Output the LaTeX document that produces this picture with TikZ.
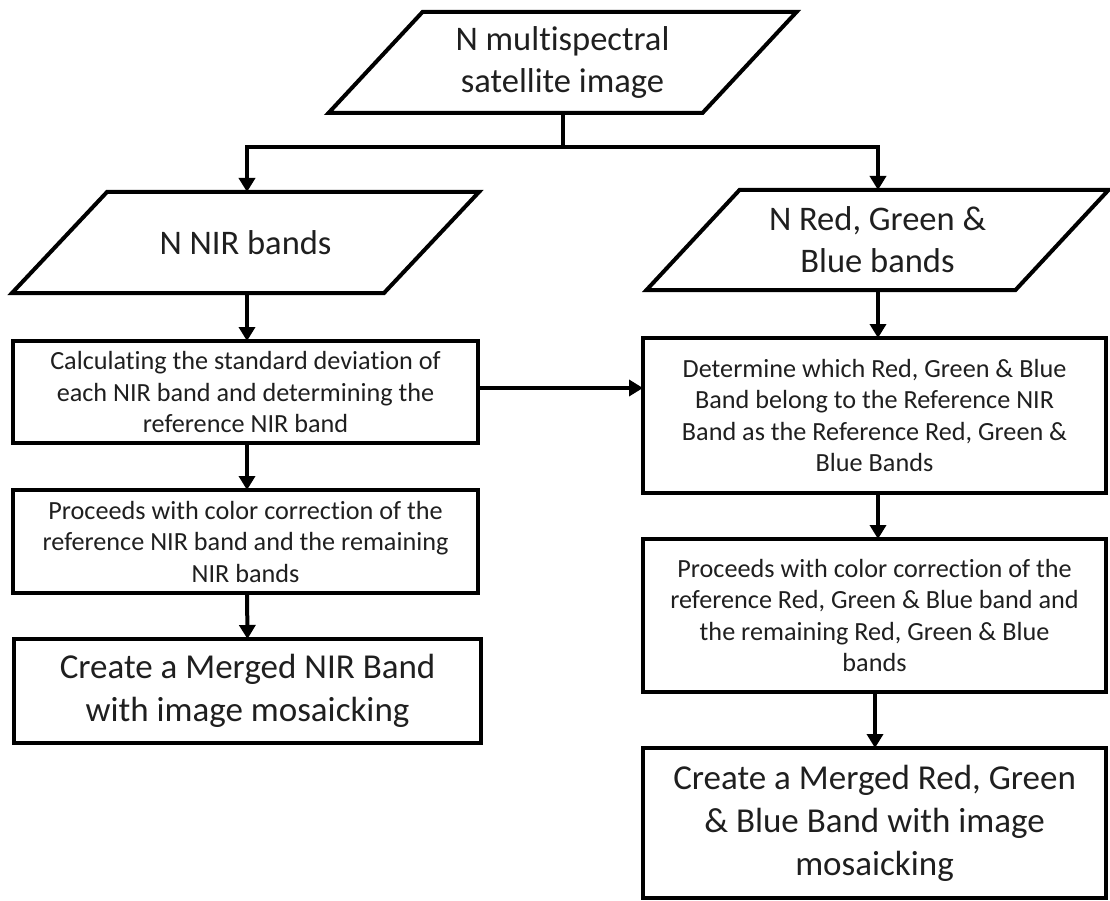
\documentclass[tikz,border=0pt]{standalone}
\usepackage{fontspec}
\setmainfont{Carlito}[Ligatures={NoCommon}]
\usetikzlibrary{arrows.meta}
\begin{document}
\begin{tikzpicture}[x=1pt,y=-1pt,
  line width=4pt,
  every node/.style={inner sep=0pt, outer sep=0pt, align=center, text=black!88},
  rectbox/.style={draw, minimum width=#1, line width=4pt},
  smalltxt/.style={font=\fontsize{26.2}{31.5}\selectfont},
  bigtxt/.style={font=\fontsize{35}{43}\selectfont},
  paratxt/.style={font=\fontsize{34.5}{42}\selectfont},
  arr/.style={-{Triangle[length=14pt,width=16pt]}, line width=4pt},
  para/.style={line width=4pt, line join=miter}
]
\useasboundingbox (0,0) rectangle (1110,901);

% parallelogram boxes (invisible nodes define the mid-height rectangle)
\node[paratxt, minimum width=374pt, minimum height=101pt] (p0) at (562.5,62.5)
  {N multispectral\\satellite image};
\draw[para] ([xshift=47pt]p0.north west) -- ([xshift=47pt]p0.north east)
  -- ([xshift=-47pt]p0.south east) -- ([xshift=-47pt]p0.south west) -- cycle;

\node[paratxt, minimum width=372pt, minimum height=101pt] (p1) at (245.5,242.5)
  {N NIR bands};
\draw[para] ([xshift=47.5pt]p1.north west) -- ([xshift=47.5pt]p1.north east)
  -- ([xshift=-47.5pt]p1.south east) -- ([xshift=-47.5pt]p1.south west) -- cycle;

\node[paratxt, minimum width=369pt, minimum height=100pt] (p2) at (877.5,240)
  {N Red, Green \&\\Blue bands};
\draw[para] ([xshift=46.5pt]p2.north west) -- ([xshift=46.5pt]p2.north east)
  -- ([xshift=-46.5pt]p2.south east) -- ([xshift=-46.5pt]p2.south west) -- cycle;

% left column
\node[rectbox=465pt, minimum height=102pt, smalltxt] (l1) at (245.5,392)
  {Calculating the standard deviation of\\each NIR band and determining the\\reference NIR band};
\node[rectbox=465pt, minimum height=103pt, smalltxt] (l2) at (245.5,541.5)
  {Proceeds with color correction of the\\reference NIR band and the remaining\\NIR bands};
\node[rectbox=467pt, minimum height=104pt, bigtxt] (l3) at (247.5,691)
  {Create a Merged NIR Band\\with image mosaicking};

% right column
\node[rectbox=463pt, minimum height=155pt, smalltxt] (r1) at (874.5,415.5)
  {Determine which Red, Green \& Blue\\Band belong to the Reference NIR\\Band as the Reference Red, Green \&\\Blue Bands};
\node[rectbox=463pt, minimum height=153pt, smalltxt] (r2) at (874.5,615.5)
  {Proceeds with color correction of the\\reference Red, Green \& Blue band and\\the remaining Red, Green \& Blue\\bands};
\node[rectbox=463pt, minimum height=150pt, bigtxt] (r3) at (874.5,823)
  {Create a Merged Red, Green\\\& Blue Band with image\\mosaicking};

% connectors
\coordinate (j) at (p0.south |- 0,147);
\draw (p0.south) -- (j);
\draw[arr] (j) -| ([xshift=1.5pt]p1.north);
\draw[arr] (j) -| ([xshift=0.5pt]p2.north);
\draw[arr] ([xshift=1.5pt]p1.south) -- ([xshift=1.5pt]l1.north);
\draw[arr] ([xshift=0.5pt]p2.south) -- ([xshift=3.5pt]r1.north);
\draw[arr] ([yshift=4pt]l1.east) -- ([yshift=4pt]l1.east -| r1.west);
\draw[arr] ([xshift=1.5pt]l1.south) -- ([xshift=1.5pt]l2.north);
\draw[arr] ([xshift=1.5pt]l2.south) -- (l3.north);
\draw[arr] ([xshift=3.5pt]r1.south) -- ([xshift=3.5pt]r2.north);
\draw[arr] ([xshift=0.5pt]r2.south) -- ([xshift=0.5pt]r3.north);
\end{tikzpicture}
\end{document}
